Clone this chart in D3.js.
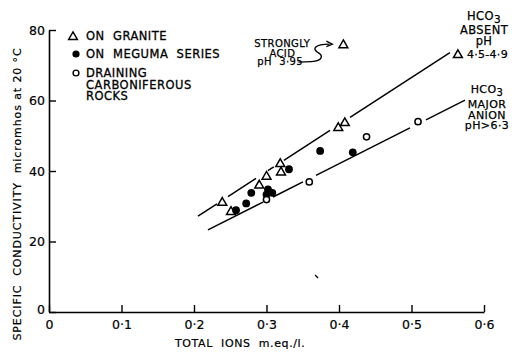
<!DOCTYPE html>
<html><head><meta charset="utf-8">
<script src="https://cdn.jsdelivr.net/npm/d3@7"></script>
<style>
body{margin:0;background:#fff;}
text{font-family:"DejaVu Sans",sans-serif;fill:#000;white-space:pre;}
</style></head>
<body>
<svg id="c" width="515" height="353"></svg>
<script>
// ---- data ----
const xTicks = [0, 0.1, 0.2, 0.3, 0.4, 0.5, 0.6];
const yTicks = [0, 20, 40, 60, 80];
// On granite (triangles)
const graniteX = [0.239, 0.251, 0.290, 0.300, 0.319, 0.320, 0.399, 0.408, 0.564];
const graniteY = [31.3, 28.7, 36.2, 38.7, 42.3, 39.9, 52.5, 53.9, 73.2];
// strongly acid granite sample, pH 3.95
const acidX = [0.406];
const acidY = [76.0];
// On Meguma series (filled circles)
const megumaX = [0.258, 0.272, 0.279, 0.300, 0.302, 0.308, 0.331, 0.374, 0.419];
const megumaY = [28.9, 30.8, 33.8, 33.3, 34.8, 33.8, 40.5, 45.7, 45.3];
// Draining Carboniferous rocks (open circles)
const carbX = [0.300, 0.359, 0.438, 0.509];
const carbY = [31.9, 36.9, 49.7, 54.0];
// Hand-drawn trend lines: end points and drawn pieces (x ranges)
const upperEnds = [[0.2055, 27.2], [0.553, 73.6]];
const upperPieces = [[0.2055, 0.2317], [0.2469, 0.2855], [0.302, 0.310], [0.324, 0.3876], [0.4152, 0.553]];
const lowerEnds = [[0.2193, 23.3], [0.5738, 60.1]];
const lowerPieces = [[0.2193, 0.2952], [0.309, 0.3503], [0.3683, 0.4979], [0.52, 0.5738]];

const svg = d3.select("#c");
const x = d3.scaleLinear().domain([0, 0.6]).range([49, 484]);
const y = d3.scaleLinear().domain([0, 80]).range([312, 30]);

// axes
const gx = svg.append("g").attr("transform", `translate(0,${y(0)})`)
  .call(d3.axisBottom(x).tickValues(xTicks).tickSize(-7).tickSizeOuter(0).tickPadding(6)
    .tickFormat(d => d === 0 ? "0" : "0·" + Math.round(d * 10)));
const gy = svg.append("g").attr("transform", `translate(${x(0)},0)`)
  .call(d3.axisLeft(y).tickValues(yTicks).tickSize(-7).tickSizeOuter(0).tickPadding(4)
    .tickFormat(d => d));
[gx, gy].forEach(g => {
  g.selectAll("path.domain").attr("stroke", "#000").attr("stroke-width", 1.6);
  g.selectAll(".tick line").attr("stroke", "#000").attr("stroke-width", 1.4);
  g.selectAll(".tick text").style("font-size", "12.5px").style("font-family", "DejaVu Sans")
    .attr("fill", "#000").attr("stroke", "#000").attr("stroke-width", 0.2);
});
gx.selectAll(".tick text").attr("dy", "0.85em");
gy.selectAll(".tick text").attr("dy", "0.35em");
gy.selectAll(".tick").filter(d => d === 0).select("text").attr("dy", "0.1em");

// axis titles
svg.append("text").attr("x", 175).attr("y", 347)
  .style("font-size", "11px").style("letter-spacing", "0.6px")
  .attr("stroke", "#000").attr("stroke-width", 0.2)
  .text("TOTAL  IONS  m.eq./l.");
svg.append("text").attr("transform", "translate(21,194) rotate(-90)")
  .attr("text-anchor", "middle").style("font-size", "11px").style("letter-spacing", "0.9px")
  .attr("stroke", "#000").attr("stroke-width", 0.2)
  .text("SPECIFIC  CONDUCTIVITY  micromhos at 20 °C");

// trend lines
function drawPieces(ends, pieces) {
  const lin = d3.scaleLinear().domain([ends[0][0], ends[1][0]]).range([ends[0][1], ends[1][1]]);
  svg.append("g").selectAll("line").data(pieces).join("line")
    .attr("x1", d => x(d[0])).attr("y1", d => y(lin(d[0])))
    .attr("x2", d => x(d[1])).attr("y2", d => y(lin(d[1])))
    .attr("stroke", "#000").attr("stroke-width", 1.5);
}
drawPieces(upperEnds, upperPieces);
drawPieces(lowerEnds, lowerPieces);

// markers
const tri = d3.symbol().type(d3.symbolTriangle).size(34);
const granite = graniteX.map((v, i) => [v, graniteY[i]]);
const acid = acidX.map((v, i) => [v, acidY[i]]);
svg.append("g").selectAll("path").data(granite.concat(acid)).join("path")
  .attr("d", tri).attr("transform", d => `translate(${x(d[0])},${y(d[1]) + 1})`)
  .attr("fill", "#fff").attr("stroke", "#000").attr("stroke-width", 1.5);
const meg = megumaX.map((v, i) => [v, megumaY[i]]);
svg.append("g").selectAll("circle").data(meg).join("circle")
  .attr("cx", d => x(d[0])).attr("cy", d => y(d[1])).attr("r", 3.9).attr("fill", "#000");
const carb = carbX.map((v, i) => [v, carbY[i]]);
svg.append("g").selectAll("circle").data(carb).join("circle")
  .attr("cx", d => x(d[0])).attr("cy", d => y(d[1])).attr("r", 3.1)
  .attr("fill", "#fff").attr("stroke", "#000").attr("stroke-width", 1.5);

// legend
const leg = [
  { t: "tri", lines: ["ON  GRANITE"], yy: 36 },
  { t: "dot", lines: ["ON  MEGUMA  SERIES"], yy: 54 },
  { t: "open", lines: ["DRAINING", "CARBONIFEROUS", "ROCKS"], yy: 73 }
];
leg.forEach(l => {
  if (l.t === "tri") svg.append("path").attr("d", tri).attr("transform", `translate(73,${l.yy + 1})`)
    .attr("fill", "#fff").attr("stroke", "#000").attr("stroke-width", 1.4);
  if (l.t === "dot") svg.append("circle").attr("cx", 76).attr("cy", l.yy).attr("r", 3.6).attr("fill", "#000");
  if (l.t === "open") svg.append("circle").attr("cx", 76).attr("cy", l.yy).attr("r", 2.9)
    .attr("fill", "#fff").attr("stroke", "#000").attr("stroke-width", 1.4);
  l.lines.forEach((s, i) => svg.append("text").attr("x", 86).attr("y", l.yy + 4 + i * 11.6)
    .style("font-size", "11.5px").style("letter-spacing", "0.5px")
    .attr("stroke", "#000").attr("stroke-width", 0.3).text(s));
});

// annotations
function label(lines, cx, ys, size) {
  lines.forEach((s, i) => {
    const t = svg.append("text").attr("x", cx).attr("y", ys[i]).attr("text-anchor", "middle")
      .style("font-size", size + "px").style("letter-spacing", "0.4px")
      .attr("stroke", "#000").attr("stroke-width", 0.25);
    if (Array.isArray(s)) {
      t.append("tspan").text(s[0]);
      t.append("tspan").attr("dy", 3).style("font-size", (size - 1) + "px").text(s[1]);
    } else t.text(s);
  });
}
const ax = x(acidX[0]), ay = y(acidY[0]);
label(["STRONGLY", "ACID"], ax - 61, [ay + 3, ay + 12.5], 10);
svg.append("text").attr("x", ax - 86).attr("y", ay + 21).style("font-size", "10px")
  .style("letter-spacing", "0.4px").attr("stroke", "#000").attr("stroke-width", 0.25).text("pH  3·95");
svg.append("path")
  .attr("d", `M${ax - 45},${ay + 18} L${ax - 32},${ay + 17.5} C${ax - 20},${ay + 17} ${ax - 20},${ay + 11} ${ax - 26},${ay + 8} C${ax - 31},${ay + 5} ${ax - 29},${ay} ${ax - 14},${ay}`)
  .attr("fill", "none").attr("stroke", "#000").attr("stroke-width", 1.4);
svg.append("path").attr("d", `M${ax - 17},${ay - 3} L${ax - 11},${ay} L${ax - 17},${ay + 2.5}`)
  .attr("fill", "none").attr("stroke", "#000").attr("stroke-width", 1.3);

const gx9 = x(graniteX[8]), gy9 = y(graniteY[8]);
label([["HCO", "3"], "ABSENT", "pH"], 484, [20, 34, 45], 11.5);
svg.append("text").attr("x", gx9 + 9).attr("y", gy9 + 4).style("font-size", "11px")
  .style("letter-spacing", "0.3px").attr("stroke", "#000").attr("stroke-width", 0.25).text("4·5-4·9");
label([["HCO", "3"], "MAJOR", "ANION", "pH>6·3"], 487, [93, 108, 118.5, 129], 11);

// small stray mark from the original print
svg.append("path").attr("d", `M${x(0.367)},${y(10.5)} l3,3`).attr("stroke", "#000").attr("stroke-width", 1.3);
</script>
</body></html>
